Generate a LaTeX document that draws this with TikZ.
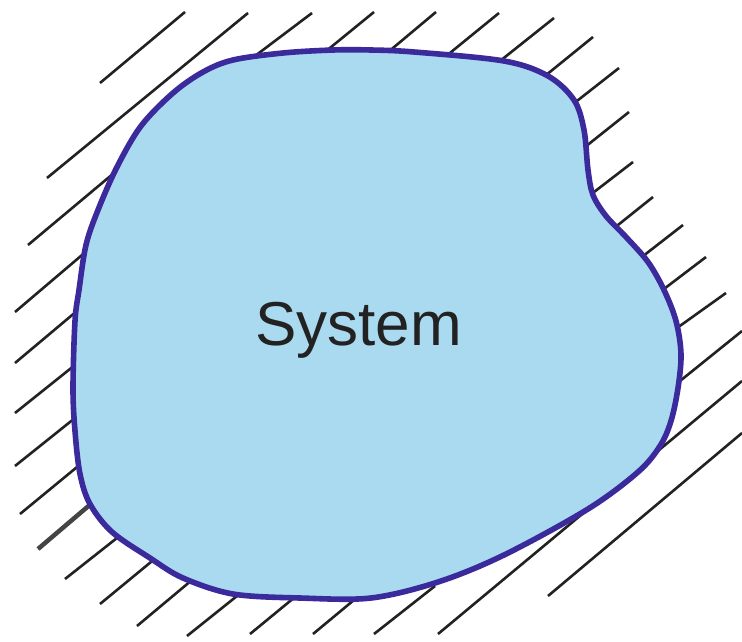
\documentclass[tikz,border=0pt]{standalone}
\usepackage{fontspec}
\setmainfont{Liberation Sans}
\definecolor{sysfill}{HTML}{AADAF0}
\definecolor{sysline}{HTML}{3A2A9C}
\definecolor{hatchc}{HTML}{222222}
\definecolor{hatchg}{HTML}{444444}
\definecolor{txtc}{HTML}{222222}
\begin{document}
\begin{tikzpicture}[x=1pt,y=-1pt,
  hatch/.style={draw=hatchc,line width=2.6pt},
  hatchthick/.style={draw=hatchg,line width=4.5pt},
  sysbody/.style={fill=sysfill,draw=sysline,line width=5.6pt,line join=round},
  label/.style={font=\fontsize{62}{72}\selectfont,text=txtc,inner sep=0pt}]
\useasboundingbox (0,0) rectangle (742,642);
% hatch lines
\foreach \xa/\ya/\xb/\yb in {
  100/83/185/12, 47/178/248/13, 28/245/120/168, 15/312/95/244,
  15/363/90/300, 15/413/85/357, 15/466/85/410, 20/514/88/458,
  65/579/122/534, 100/604/157/557, 137/626/192/580, 187/636/237/596,
  250/634/295/597, 313/634/360/595, 374/634/435/586,
  438/634/742/381, 548/596/742/433, 675/385/742/331, 670/333/726/293,
  660/292/706/257, 638/260/683/225, 608/233/653/197, 585/199/633/162,
  580/151/629/112, 568/108/619/68, 540/80/593/37, 495/65/554/18,
  445/57/499/13, 387/53/436/12, 325/52/374/12, 255/56/312/13}
  \draw[hatch] (\xa,\ya) -- (\xb,\yb);
\draw[hatchthick] (38,549) -- (92,503);
% system body
\draw[sysbody] plot[smooth cycle,tension=0.55] coordinates {
  (233,60) (283,53) (333,50) (371,50) (414,52) (504,61) (548,76) (574,100)
  (584,130) (588,170) (593,195) (606,216) (626,237) (648,262) (664,290)
  (676,321) (681,354) (678,388) (671,421) (660,446) (638,472) (588,509)
  (504,555) (438,582) (371,598) (300,598) (233,594) (183,578) (150,558)
  (112,532) (90,504) (80,474) (75,431) (73,388) (75,321) (79,290)
  (86,245) (98,210) (117,167) (141,126) (173,93) (203,72)};
\node[label,anchor=base] (sys) at (358.5,345) {System};
\end{tikzpicture}
\end{document}
